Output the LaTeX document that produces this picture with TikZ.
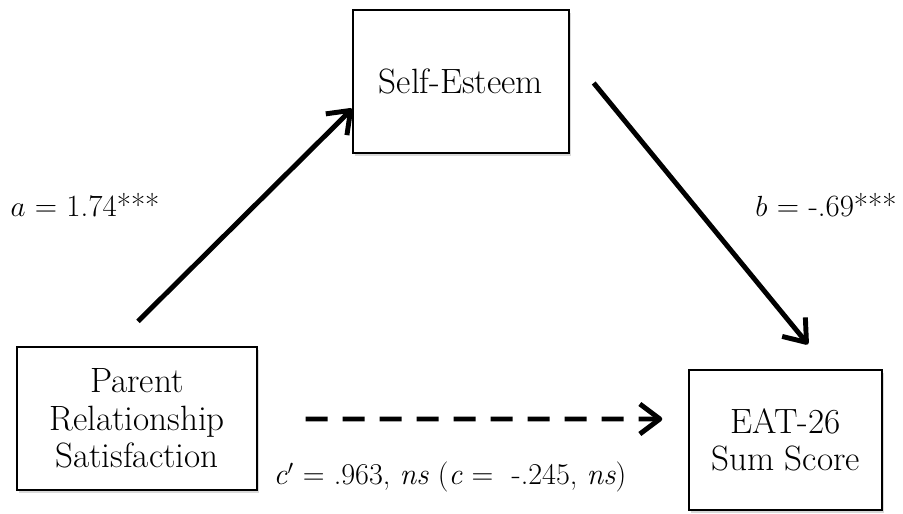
\documentclass[tikz,border=0pt]{standalone}
\usetikzlibrary{arrows.meta,calc,positioning,shadows}

\tikzset{
	varbox/.style={draw, line width=1pt, fill=white, align=center,
		font=\fontsize{25}{26.5}\selectfont,
		drop shadow={shadow xshift=0.05cm, shadow yshift=-0.07cm, opacity=0.3}},
	patharrow/.style={line width=3.5pt, -{Straight Barb[length=0.5cm,width=0.75cm,line join=round]}},
	pathlabel/.style={anchor=base, font=\fontsize{22}{26}\selectfont},
}

\begin{document}
\begin{tikzpicture}
			%%%%% START %%%%%
			\useasboundingbox (0, 0) rectangle (22.575, 12.85);
			
			% variables
			\node[varbox, minimum width=5.4cm, minimum height=3.575cm] (esteem) at (11.525, 10.8125) {Self-Esteem};
			\node[varbox, minimum width=6cm, minimum height=3.575cm] (parent) at (3.425, 2.3875) {Parent\\Relationship\\Satisfaction};
			\node[varbox, minimum width=4.825cm, minimum height=3.5cm] (eat) at (19.6375, 1.85) {EAT-26\\Sum Score};
			
			% arrow ends
			\coordinate (aStart) at ($(parent.north)+(0.025, 0.625)$);
			\coordinate (aEnd) at ($(esteem.south west)+(0, 1.125)$);
			\coordinate (bStart) at ($(esteem.east)+(0.6, -0.0375)$);
			\coordinate (bEnd) at ($(eat.north)+(0.5625, 0.625)$);
			\coordinate (cStart) at ($(parent.east)+(1.2, -0.0125)$);
			\coordinate (cEnd) at ($(eat.west)+(-0.65, 0.525)$);
			
			\draw[patharrow] (aStart) -- (aEnd);
			\draw[patharrow] (bStart) -- (bEnd);
			\draw[patharrow, dash pattern=on 0.55cm off 0.375cm] (cStart) -- (cEnd);
			
			% path labels
			\node[pathlabel] (labA) at (2.125, 7.425) {$a$ = 1.74***};
			\node[pathlabel] (labB) at (20.65, 7.425) {$b$ = -.69***};
			\node[pathlabel, font=\fontsize{21.5}{25}\selectfont] (labC) at (11.25, 0.725) {\textit{c}$'$ = .963, \textit{ns} (\textit{c} =~ -.245, \textit{ns})};
			
			%%%%% END %%%%%
		\end{tikzpicture}
\end{document}
